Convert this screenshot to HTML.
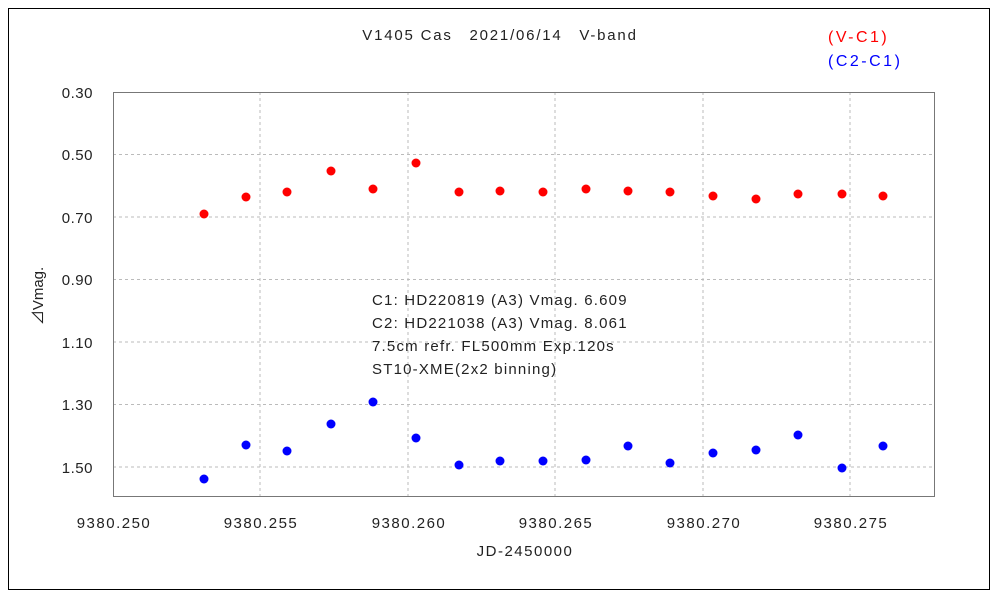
<!DOCTYPE html>
<html><head><meta charset="utf-8"><style>
html,body{margin:0;padding:0;background:#fff;}
svg text{font-family:"Liberation Sans","Noto Sans CJK JP",sans-serif;font-size:15px;fill:#222;}
</style></head><body>
<svg width="1000" height="600" xmlns="http://www.w3.org/2000/svg">
<rect x="0" y="0" width="1000" height="600" fill="#fff"/>
<rect x="8.5" y="8.5" width="981" height="581" fill="none" stroke="#000" stroke-width="1"/>
<g stroke="#bbb" stroke-dasharray="3,3" stroke-width="1">
<line x1="260" y1="92" x2="260" y2="497"/><line x1="408" y1="92" x2="408" y2="497"/>
<line x1="555" y1="92" x2="555" y2="497"/><line x1="703" y1="92" x2="703" y2="497"/>
<line x1="850" y1="92" x2="850" y2="497"/>
<line x1="113" y1="154.5" x2="935" y2="154.5"/><line x1="113" y1="217" x2="935" y2="217"/>
<line x1="113" y1="279.5" x2="935" y2="279.5"/><line x1="113" y1="342" x2="935" y2="342"/>
<line x1="113" y1="404.5" x2="935" y2="404.5"/><line x1="113" y1="467" x2="935" y2="467"/>
</g>
<rect x="113.5" y="92.5" width="821" height="404" fill="none" stroke="#777" stroke-width="1"/>
<text x="500" y="40" text-anchor="middle" style="letter-spacing:1.8px">V1405 Cas　2021/06/14　V-band</text>
<text x="828" y="42" style="fill:#f00;font-size:16px;letter-spacing:2.5px">(V-C1)</text>
<text x="828" y="66" style="fill:#00f;font-size:16px;letter-spacing:2.5px">(C2-C1)</text>
<g text-anchor="end" style="letter-spacing:0.5px">
<text x="93" y="98">0.30</text><text x="93" y="160">0.50</text><text x="93" y="223">0.70</text>
<text x="93" y="285">0.90</text><text x="93" y="348">1.10</text><text x="93" y="410">1.30</text>
<text x="93" y="473">1.50</text>
</g>
<g text-anchor="middle" style="letter-spacing:1.5px">
<text x="114" y="528">9380.250</text><text x="261" y="528">9380.255</text><text x="409" y="528">9380.260</text>
<text x="556" y="528">9380.265</text><text x="704" y="528">9380.270</text><text x="851" y="528">9380.275</text>
<text x="525" y="556">JD-2450000</text>
</g>
<text transform="translate(43,296) rotate(-90)" text-anchor="middle">⊿Vmag.</text>
<g style="letter-spacing:1.2px">
<text x="372" y="305">C1: HD220819 (A3) Vmag. 6.609</text>
<text x="372" y="328">C2: HD221038 (A3) Vmag. 8.061</text>
<text x="372" y="351">7.5cm refr. FL500mm  Exp.120s</text>
<text x="372" y="374">ST10-XME(2x2 binning)</text>
</g>
<g fill="#f00">
<circle cx="204" cy="214" r="4.5"/><circle cx="246" cy="197" r="4.5"/><circle cx="287" cy="192" r="4.5"/>
<circle cx="331" cy="171" r="4.5"/><circle cx="373" cy="189" r="4.5"/><circle cx="416" cy="163" r="4.5"/>
<circle cx="459" cy="192" r="4.5"/><circle cx="500" cy="191" r="4.5"/><circle cx="543" cy="192" r="4.5"/>
<circle cx="586" cy="189" r="4.5"/><circle cx="628" cy="191" r="4.5"/><circle cx="670" cy="192" r="4.5"/>
<circle cx="713" cy="196" r="4.5"/><circle cx="756" cy="199" r="4.5"/><circle cx="798" cy="194" r="4.5"/>
<circle cx="842" cy="194" r="4.5"/><circle cx="883" cy="196" r="4.5"/>
</g>
<g fill="#00f">
<circle cx="204" cy="479" r="4.5"/><circle cx="246" cy="445" r="4.5"/><circle cx="287" cy="451" r="4.5"/>
<circle cx="331" cy="424" r="4.5"/><circle cx="373" cy="402" r="4.5"/><circle cx="416" cy="438" r="4.5"/>
<circle cx="459" cy="465" r="4.5"/><circle cx="500" cy="461" r="4.5"/><circle cx="543" cy="461" r="4.5"/>
<circle cx="586" cy="460" r="4.5"/><circle cx="628" cy="446" r="4.5"/><circle cx="670" cy="463" r="4.5"/>
<circle cx="713" cy="453" r="4.5"/><circle cx="756" cy="450" r="4.5"/><circle cx="798" cy="435" r="4.5"/>
<circle cx="842" cy="468" r="4.5"/><circle cx="883" cy="446" r="4.5"/>
</g>
</svg>
</body></html>
